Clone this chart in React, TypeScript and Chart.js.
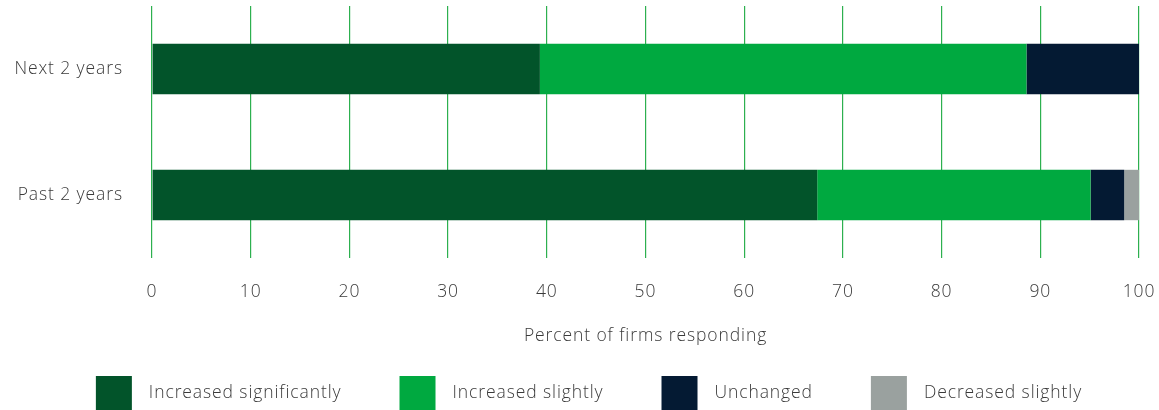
import React, { useEffect, useRef } from "react";
import { Chart, registerables } from "chart.js";

Chart.register(...registerables);

const categories = ["Next 2 years", "Past 2 years"];
const seriesNames = ["Increased significantly", "Increased slightly", "Unchanged", "Decreased slightly"];
const increasedSignificantly = [39.3, 67.4];
const increasedSlightly = [49.3, 27.7];
const unchanged = [11.4, 3.4];
const decreasedSlightly = [0, 1.5];
const seriesColors = ["#02542a", "#00a940", "#041a33", "#9aa19f"];
const xTicks = [0, 10, 20, 30, 40, 50, 60, 70, 80, 90, 100];
const axisTitle = "Percent of firms responding";

const FONT = "'Open Sans', sans-serif";
const TEXT = "#3a3a3a";
const SPACING = "0.9px";

const spacingPlugin = {
  id: "letterSpacing",
  beforeUpdate(chart: any) {
    chart.ctx.letterSpacing = SPACING;
  },
  beforeLayout(chart: any) {
    chart.ctx.letterSpacing = SPACING;
  },
  beforeDraw(chart: any) {
    chart.ctx.letterSpacing = SPACING;
  },
};

const legendPlugin = {
  id: "customLegend",
  afterDraw(chart: any) {
    const ctx = chart.ctx;
    const ds = chart.data.datasets;
    const boxW = 36, boxH = 34, gapBox = 17, gapItem = 58;
    ctx.save();
    ctx.letterSpacing = SPACING;
    ctx.font = `300 17.5px ${FONT}`;
    const widths = ds.map((d: any) => boxW + gapBox + ctx.measureText(d.label).width);
    const total = widths.reduce((a: number, b: number) => a + b, 0) + gapItem * (ds.length - 1);
    let x = 589 - total / 2;
    const yTop = 376;
    const yMid = 393;
    ds.forEach((d: any, i: number) => {
      ctx.fillStyle = d.backgroundColor;
      ctx.fillRect(x, yTop, boxW, boxH);
      ctx.fillStyle = TEXT;
      ctx.textBaseline = "middle";
      ctx.textAlign = "left";
      ctx.fillText(d.label, x + boxW + gapBox, yMid);
      x += widths[i] + gapItem;
    });
    ctx.restore();
  },
};

export default function App() {
  const ref = useRef<HTMLCanvasElement>(null);
  useEffect(() => {
    document.body.style.margin = "0";
    const values = [increasedSignificantly, increasedSlightly, unchanged, decreasedSlightly];
    const chart = new Chart(ref.current!, {
      type: "bar",
      data: {
        labels: categories,
        datasets: seriesNames.map((name, i) => ({
          label: name,
          data: values[i],
          backgroundColor: seriesColors[i],
          borderWidth: 0,
          barPercentage: 0.4,
          categoryPercentage: 1,
        })),
      },
      options: {
        indexAxis: "y",
        animation: false,
        responsive: false,
        maintainAspectRatio: false,
        layout: { padding: { top: 6, right: 20, bottom: 63, left: 0 } },
        plugins: { legend: { display: false }, tooltip: { enabled: false } },
        scales: {
          x: {
            stacked: true,
            min: 0,
            max: 100,
            afterBuildTicks: (s: any) => {
              s.ticks = xTicks.map((v) => ({ value: v }));
            },
            afterFit: (s: any) => {
              s.height = 89;
              s.paddingLeft = 0;
              s.paddingRight = 0;
            },
            grid: { color: "#2db04f", lineWidth: 1.2, drawTicks: false },
            border: { display: false },
            ticks: { padding: 24, color: TEXT, font: { family: FONT, size: 17.5, weight: "300" } },
            title: {
              display: true,
              text: axisTitle,
              color: TEXT,
              font: { family: FONT, size: 17.5, weight: "300" },
              padding: { top: 25, bottom: 0 },
            },
          },
          y: {
            stacked: true,
            grid: { display: false, drawTicks: false },
            border: { display: false },
            afterFit: (s: any) => {
              s.width = 152;
              s.paddingTop = 0;
              s.paddingBottom = 0;
            },
            ticks: { padding: 29, color: TEXT, font: { family: FONT, size: 17.5, weight: "300" } },
          },
        },
      },
      plugins: [spacingPlugin, legendPlugin],
    });
    return () => chart.destroy();
  }, []);
  return <canvas ref={ref} width={1159} height={410} />;
}
